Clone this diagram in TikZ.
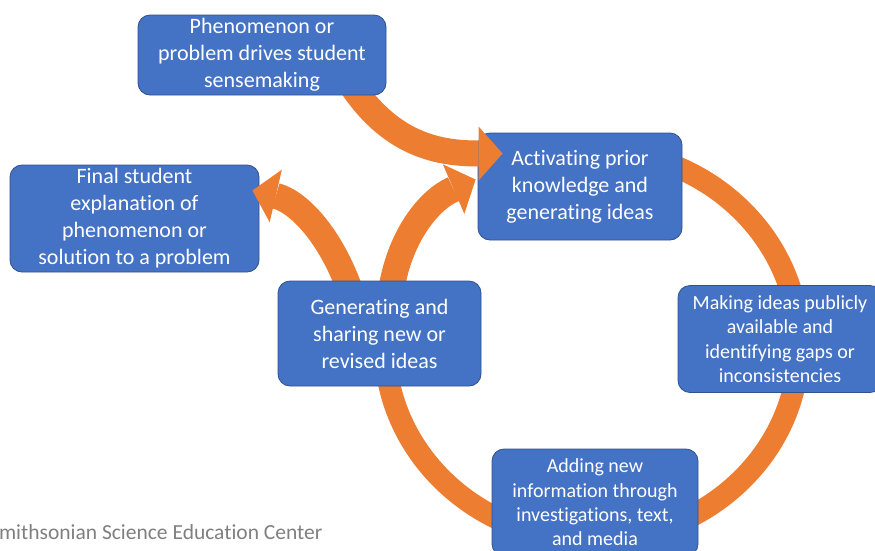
\documentclass[tikz,border=0pt]{standalone}
\usepackage{fontspec}
\setmainfont{Carlito}[Ligatures=NoCommon]
\usetikzlibrary{arrows.meta}

\definecolor{boxblue}{HTML}{4472C4}
\definecolor{boxedge}{HTML}{2F528F}
\definecolor{cycleorange}{HTML}{ED7D31}
\definecolor{creditgray}{HTML}{7F7F7F}

\pgfdeclarelayer{front}
\pgfsetlayers{main,front}

\begin{document}
\begin{tikzpicture}[x=1pt, y=-1pt,
		stage/.style={draw=boxedge, line width=0.8pt, fill=boxblue, text=white,
			rounded corners=12pt, align=center, inner sep=0pt,
			minimum width=204pt, minimum height=107pt,
			font=\fontsize{22}{27}\selectfont},
		smalltext/.style={font=\fontsize{20}{24.3}\selectfont},
		ring/.style={draw=cycleorange, line width=22pt},
		fat/.style={draw=cycleorange, line width=26pt,
			-{Triangle[width=54pt 0 0, length=24pt 0 0, line width=0pt]}}]
	\useasboundingbox (0,0) rectangle (875,550);

	% boxes the arrows come out of sit on top
	\begin{pgfonlayer}{front}
		\node[stage, minimum width=248pt, minimum height=80pt] (phen) at (262,55)
			{Phenomenon or\\problem drives student\\sensemaking};
		\node[stage, minimum width=203pt, minimum height=105pt] (gen) at (379.5,333.5)
			{Generating and\\sharing new or\\revised ideas};
	\end{pgfonlayer}

	% the cycle
	\draw[ring] (592,345) ++(275:207 and 195)
		arc[start angle=275, end angle=545, x radius=207, y radius=195];

	\node[stage, minimum width=249pt] (final) at (134.5,218.5)
		{Final student\\explanation of\\phenomenon or\\solution to a problem};
	\node[stage] (act) at (580,186.5)
		{Activating prior\\knowledge and\\generating ideas};
	\node[stage, smalltext] (make) at (780,339)
		{Making ideas publicly\\available and\\identifying gaps or\\inconsistencies};
	\node[stage, smalltext, minimum width=206pt] (add) at (595,502.5)
		{Adding new\\information through\\investigations, text,\\and media};

	% curved arrows
	\draw[fat] ([xshift=91pt, yshift=8pt]phen.south)
		.. controls +(40,58) and +(-63,0) .. ([xshift=25pt, yshift=33pt]act.west);
	\draw[fat] ([xshift=-30pt, yshift=-8pt]gen.north)
		.. controls +(-22,-59) and +(43,10) .. ([xshift=-7pt, yshift=28pt]final.east);
	\draw[fat] ([xshift=12pt, yshift=-8pt]gen.north)
		.. controls +(9,-54) and +(-46,20) .. ([xshift=-2pt, yshift=7pt]act.west);

	\node[anchor=base east, text=creditgray, font=\fontsize{21.5}{26}\selectfont] (source)
		at (326,539) {Smithsonian Science Education Center};
\end{tikzpicture}
\end{document}
